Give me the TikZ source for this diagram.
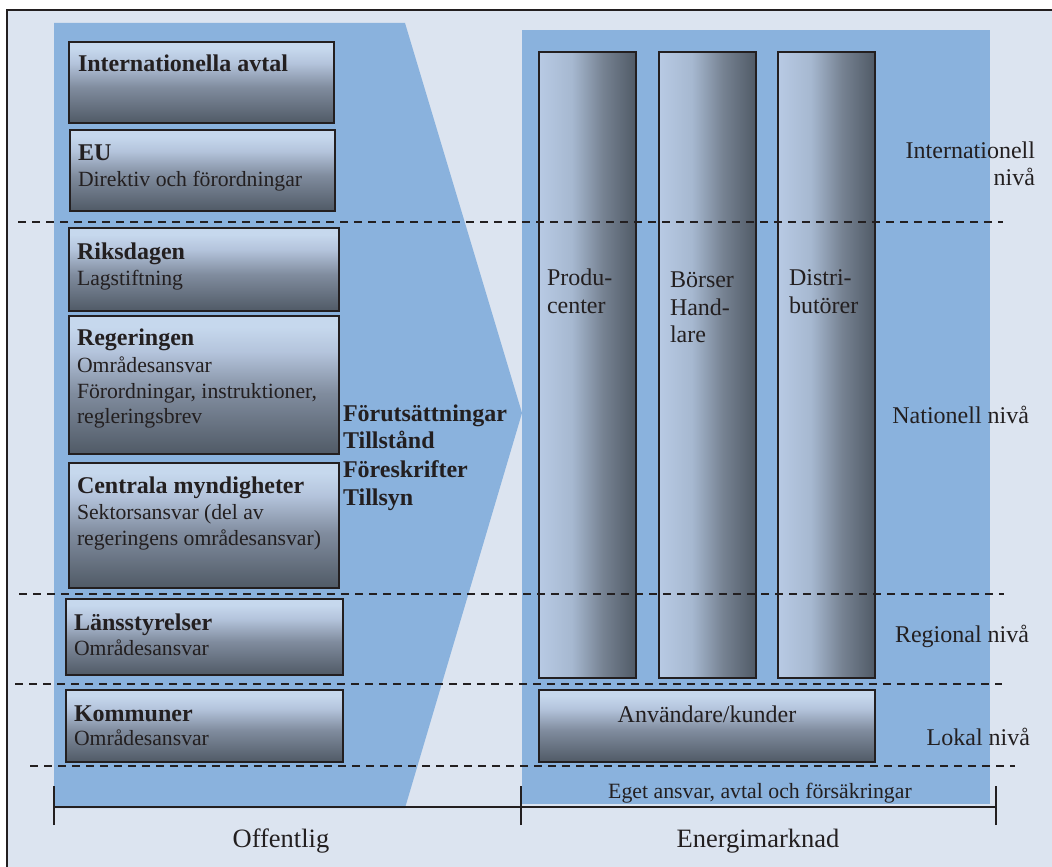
\documentclass[tikz,border=0pt]{standalone}
\usepackage{fontspec}
\setmainfont{Liberation Serif}
\definecolor{bgl}{RGB}{220,228,240}
\definecolor{blu}{RGB}{138,178,221}
\definecolor{txt}{RGB}{35,31,32}
\definecolor{gl}{RGB}{198,216,237}
\definecolor{gltwo}{RGB}{180,196,220}
\definecolor{gm}{RGB}{128,140,158}
\definecolor{gd}{RGB}{80,90,102}
\definecolor{cl}{RGB}{184,202,228}
\definecolor{cltwo}{RGB}{166,184,208}
\definecolor{cm}{RGB}{118,130,146}
\pgfdeclareverticalshading{boxv}{100bp}{color(0bp)=(gd); color(25bp)=(gd); color(47bp)=(gm); color(62bp)=(gltwo); color(71bp)=(gl); color(100bp)=(gl)}
\pgfdeclarehorizontalshading{colh}{100bp}{color(0bp)=(cl); color(25bp)=(cl); color(42bp)=(cltwo); color(58bp)=(cm); color(75bp)=(gd); color(100bp)=(gd)}
\begin{document}
\begin{tikzpicture}[x=1pt,y=-1pt,
  every node/.style={inner sep=0pt, outer sep=0pt, text=txt},
  lbox/.style={rectangle, draw=txt, line width=1.8pt, shade, shading=boxv},
  cbox/.style={rectangle, draw=txt, line width=1.8pt, shade, shading=colh},
  hd/.style={font=\fontsize{24}{28}\selectfont\bfseries, anchor=base west},
  sub/.style={font=\fontsize{21.7}{25}\selectfont, anchor=base west},
  lvl/.style={font=\fontsize{24}{28}\selectfont, anchor=base east},
  coltxt/.style={font=\fontsize{24}{28}\selectfont, anchor=base west},
  big/.style={font=\fontsize{26.5}{30}\selectfont, anchor=base},
  lev/.style={dash pattern=on 8pt off 6pt, line width=1.5pt, draw=txt},
  brk/.style={line width=2pt, draw=txt}]
\useasboundingbox (0,0) rectangle (1052,867);
\begin{scope}
\clip (0,0) rectangle (1052,867);
\fill[white] (0,0) rectangle (1052,867);
\draw[fill=bgl, draw=txt, line width=2pt] (7,10) rectangle (1070,890);
% chevron (public sector)
\fill[blu] (54,23) -- (405,23) -- (522,413) -- (405,808) -- (54,808) -- cycle;
% energy market panel
\fill[blu] (522,30) rectangle (990,804);
\end{scope}

% left boxes
\node[lbox, minimum width=265, minimum height=81] (intl) at (201.5,82.5) {};
\node[lbox, minimum width=265, minimum height=81] (eu) at (202.5,170.5) {};
\node[lbox, minimum width=270, minimum height=83] (riks) at (204,269.5) {};
\node[lbox, minimum width=270, minimum height=138] (reg) at (204,385) {};
\node[lbox, minimum width=270, minimum height=125] (cent) at (204,525.5) {};
\node[lbox, minimum width=277, minimum height=76] (lans) at (204.5,637) {};
\node[lbox, minimum width=277, minimum height=72] (komm) at (204.5,726) {};

% market columns
\node[cbox, minimum width=97, minimum height=626] (prod) at (587.5,365) {};
\node[cbox, minimum width=97, minimum height=626] (bors) at (707.5,365) {};
\node[cbox, minimum width=97, minimum height=626] (dist) at (826.5,365) {};
\node[lbox, minimum width=336, minimum height=72] (anv) at (707,726) {};

% level separators
\draw[lev] (18,222) -- (1003,222);
\draw[lev] (19,594) -- (1004,594);
\draw[lev] (15,684) -- (1002,684);
\draw[lev] (30,766) -- (1015,766);

% texts in left boxes
\node[hd] (intlT) at (78,72) {Internationella avtal};
\node[hd] (euT) at (78,160) {EU};
\node[sub] (euS) at (78,186) {Direktiv och förordningar};
\node[hd] (riksT) at (77,259) {Riksdagen};
\node[sub] (riksS) at (77,285) {Lagstiftning};
\node[hd] (regT) at (77,345) {Regeringen};
\node[sub] (regS1) at (77,372) {Områdesansvar};
\node[sub] (regS2) at (77,398) {Förordningar, instruktioner,};
\node[sub] (regS3) at (77,423) {regleringsbrev};
\node[hd] (centT) at (77,493) {Centrala myndigheter};
\node[sub] (centS1) at (77,519) {Sektorsansvar (del av};
\node[sub] (centS2) at (77,545) {regeringens områdesansvar)};
\node[hd] (lansT) at (74,630) {Länsstyrelser};
\node[sub] (lansS) at (74,655) {Områdesansvar};
\node[hd] (kommT) at (74,721) {Kommuner};
\node[sub] (kommS) at (74,745) {Områdesansvar};

% chevron text
\node[hd] (ch1) at (343,421) {Förutsättningar};
\node[hd] (ch2) at (343,448) {Tillstånd};
\node[hd] (ch3) at (343,477) {Föreskrifter};
\node[hd] (ch4) at (343,505) {Tillsyn};

% column texts
\node[coltxt] (prodT1) at (547,285) {Produ-};
\node[coltxt] (prodT2) at (547,313) {center};
\node[coltxt] (borsT1) at (670,287) {Börser};
\node[coltxt] (borsT2) at (670,315) {Hand-};
\node[coltxt] (borsT3) at (670,342) {lare};
\node[coltxt] (distT1) at (789,285) {Distri-};
\node[coltxt] (distT2) at (789,313) {butörer};
\node[font=\fontsize{24}{28}\selectfont, anchor=base] (anvT) at (707,722) {Användare/kunder};
\node[font=\fontsize{21.8}{25}\selectfont, anchor=base] (eget) at (760,798) {Eget ansvar, avtal och försäkringar};

% level labels
\node[lvl] (lvInt1) at (1035,158) {Internationell};
\node[lvl] (lvInt2) at (1035,185) {nivå};
\node[lvl] (lvNat) at (1029,423) {Nationell nivå};
\node[lvl] (lvReg) at (1029,642) {Regional nivå};
\node[lvl] (lvLok) at (1030,745) {Lokal nivå};

% bracket
\coordinate (bL) at (54,807);
\coordinate (bM) at (521,807);
\coordinate (bR) at (996,807);
\draw[brk] (bL) -- (bR);
\draw[brk] ([yshift=-18]bL) -- ([yshift=21]bL);
\draw[brk] ([yshift=-18]bM) -- ([yshift=21]bM);
\draw[brk] ([yshift=-18]bR) -- ([yshift=21]bR);
\node[big] (off) at (281,847) {Offentlig};
\node[big] (energ) at (758,847) {Energimarknad};
\end{tikzpicture}
\end{document}
